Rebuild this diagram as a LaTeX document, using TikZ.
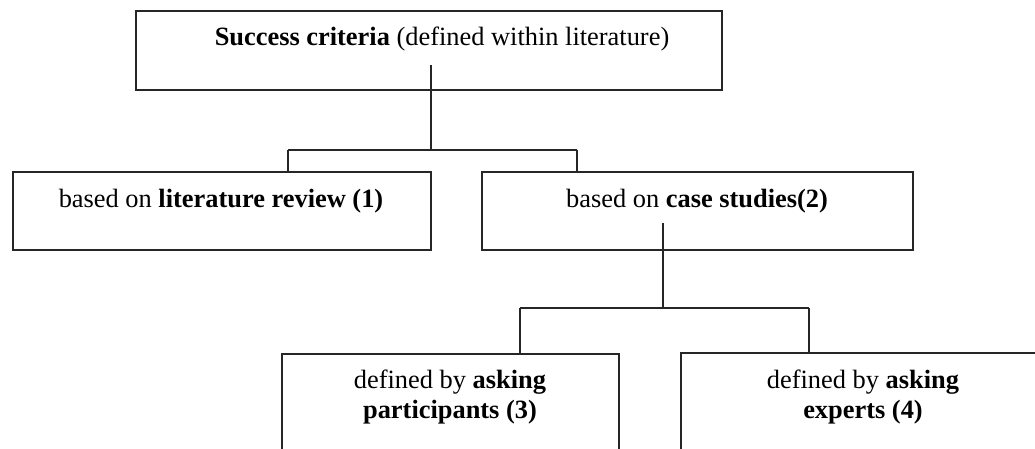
\documentclass[tikz,border=0pt]{standalone}
\usepackage{fontspec}
\setmainfont{Liberation Serif}
\begin{document}
\begin{tikzpicture}[x=1pt,y=-1pt,
  box/.style={draw=black!85, line width=1.8pt, rectangle, inner sep=0pt, outer sep=0pt, anchor=north west},
  txt/.style={inner sep=0pt, anchor=base, font=\fontsize{26.4}{30}\selectfont},
  link/.style={draw=black!85, line width=1.8pt}]
\useasboundingbox (0,0) rectangle (1035,448);
\clip (0,0) rectangle (1035,448);
\fill[white] (0,0) rectangle (1035,448);

% boxes
\node[box, minimum width=586pt, minimum height=79pt] (top) at (136,11) {};
\node[box, minimum width=418pt, minimum height=78pt] (lit) at (13,172) {};
\node[box, minimum width=431pt, minimum height=78pt] (cases) at (482,172) {};
\node[box, minimum width=337pt, minimum height=120pt] (part) at (282,354) {};
\node[box, minimum width=364pt, minimum height=120pt] (expert) at (681,353) {};

% labels
\node[txt] (toptext) at (442,45) {\textbf{Success criteria} (defined within literature)};
\node[txt] (littext) at (221,207) {based on \textbf{literature review (1)}};
\node[txt] (casetext) at (697,207) {based on \textbf{case studies(2)}};
\node[txt] (parttext1) at (450,388) {defined by \textbf{asking}};
\node[txt] (parttext2) at (450,418) {\textbf{participants (3)}};
\node[txt] (experttext1) at (863,388) {defined by \textbf{asking}};
\node[txt] (experttext2) at (863,418) {\textbf{experts (4)}};

% first level of the tree
\coordinate (topstem) at (431,65);
\coordinate (j1) at (431,150);
\coordinate (b1) at (288,150);
\coordinate (b2) at (577,150);
\draw[link] (topstem) -- (j1);
\draw[link] (b1) -- (b2);
\draw[link] (b1) -- (b1 |- lit.north);
\draw[link] (b2) -- (b2 |- cases.north);

% second level of the tree
\coordinate (casestem) at (663,223);
\coordinate (j2) at (663,308);
\coordinate (c1) at (520,308);
\coordinate (c2) at (809,308);
\draw[link] (casestem) -- (j2);
\draw[link] (c1) -- (c2);
\draw[link] (c1) -- (c1 |- part.north);
\draw[link] (c2) -- (c2 |- expert.north);
\end{tikzpicture}
\end{document}
